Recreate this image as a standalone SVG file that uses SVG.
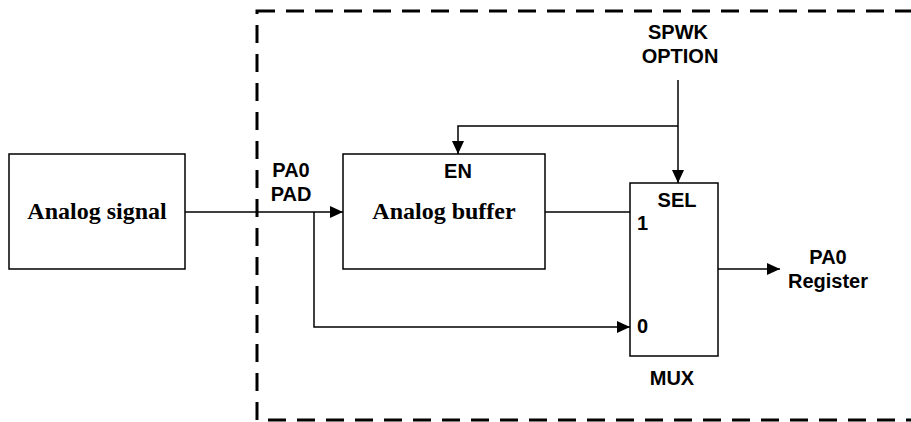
<svg xmlns="http://www.w3.org/2000/svg" width="911" height="422" viewBox="0 0 911 422">
<style>
.box{fill:#fff;stroke:#000;stroke-width:1.5}
.ln{fill:none;stroke:#000;stroke-width:1.5}
.s{font-family:"Liberation Sans",Arial,sans-serif;font-weight:bold;font-size:20px;fill:#000}
.r{font-family:"Liberation Serif","Times New Roman",serif;font-weight:bold;font-size:24px;fill:#000}
.dash{fill:none;stroke:#000;stroke-width:3;stroke-dasharray:18 11}
</style>
<defs>
<marker id="ah" viewBox="0 0 13 12" refX="13" refY="6" markerWidth="13" markerHeight="12" markerUnits="userSpaceOnUse" orient="auto">
<path d="M0,0 L13,6 L0,12 Z" fill="#000"/>
</marker>
</defs>
<rect class="dash" x="257" y="11" width="680" height="409"/>
<g id="connectors">
<path class="ln" d="M185,212 H343" marker-end="url(#ah)"/>
<path class="ln" d="M314,212 V327 H630" marker-end="url(#ah)"/>
<path class="ln" d="M545,212 H630"/>
<path class="ln" d="M718,269 H780" marker-end="url(#ah)"/>
<path class="ln" d="M678,80 V183" marker-end="url(#ah)"/>
<path class="ln" d="M678,126 H458 V154" marker-end="url(#ah)"/>
</g>
<g id="analog-signal">
<rect class="box" x="9" y="154" width="176" height="115"/>
<text class="r" x="97" y="219" text-anchor="middle">Analog signal</text>
</g>
<g id="pad-label">
<text class="s" x="291" y="177" text-anchor="middle">PA0</text>
<text class="s" x="291" y="201" text-anchor="middle">PAD</text>
</g>
<g id="analog-buffer">
<rect class="box" x="343" y="154" width="202" height="115"/>
<text class="s" x="458" y="178" text-anchor="middle">EN</text>
<text class="r" x="444" y="219" text-anchor="middle">Analog buffer</text>
</g>
<g id="spwk">
<text class="s" x="678" y="39" text-anchor="middle">SPWK</text>
<text class="s" x="680" y="63" text-anchor="middle">OPTION</text>
</g>
<g id="mux">
<rect class="box" x="630" y="183" width="88" height="173"/>
<text class="s" x="677" y="207" text-anchor="middle">SEL</text>
<text class="s" x="637" y="230">1</text>
<text class="s" x="637" y="333">0</text>
<text class="s" x="672" y="385" text-anchor="middle">MUX</text>
</g>
<g id="pa0-register">
<text class="s" x="828" y="264" text-anchor="middle">PA0</text>
<text class="s" x="828" y="288" text-anchor="middle">Register</text>
</g>
</svg>
